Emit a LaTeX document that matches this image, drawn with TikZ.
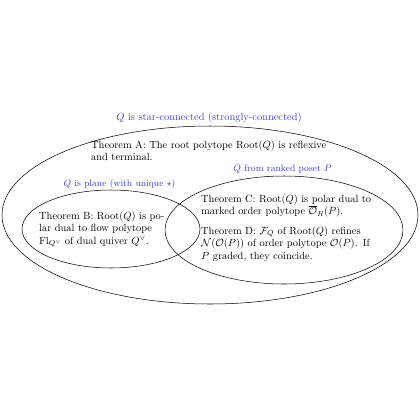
\documentclass[tikz,border=0pt]{standalone}
\usepackage{amsmath,amssymb}
\definecolor{lblue}{RGB}{60,60,240}
\begin{document}
\begin{tikzpicture}[x=0.96pt,y=-0.96pt,
  region/.style={draw=black,line width=0.5pt},
  lbl/.style={text=lblue,font=\normalsize,inner sep=1pt},
  slbl/.style={lbl,font=\small},
  thm/.style={align=left,inner sep=0pt,anchor=north west,font=\normalsize}]
\useasboundingbox (0,0) rectangle (420,420);
\draw[region] (210,215) ellipse [x radius=208, y radius=89];
\draw[region] (111,229) ellipse [x radius=89, y radius=39];
\draw[region] (284,230) ellipse [x radius=119, y radius=54];
\node[lbl] (la) at (209,118) {$Q$ is star-connected (strongly-connected)};
\node[slbl] (lb) at (119.5,184) {$Q$ is plane (with unique $\star$)};
\node[slbl] (lc) at (282.5,169) {$Q$ from ranked poset $P$};
\node[thm,text width=236pt] (ta) at (91,140) {Theorem A: The root polytope $\mathrm{Root}(Q)$ is reflexive and terminal.};
\node[thm,text width=123pt] (tb) at (39,211) {Theorem B: $\mathrm{Root}(Q)$ is polar dual to flow polytope $\mathrm{Fl}_{Q^\vee}$ of dual quiver $Q^\vee$.};
\node[thm,text width=165pt] (tc) at (201,194) {Theorem C: $\mathrm{Root}(Q)$ is polar dual to marked order polytope $\overline{\mathcal{O}}_R(P)$.\par\vspace{7pt}
Theorem D: $\mathcal{F}_Q$ of $\mathrm{Root}(Q)$ refines $\mathcal{N}(\mathcal{O}(P))$ of order polytope $\mathcal{O}(P)$. If $P$ graded, they coincide.};
\end{tikzpicture}
\end{document}
